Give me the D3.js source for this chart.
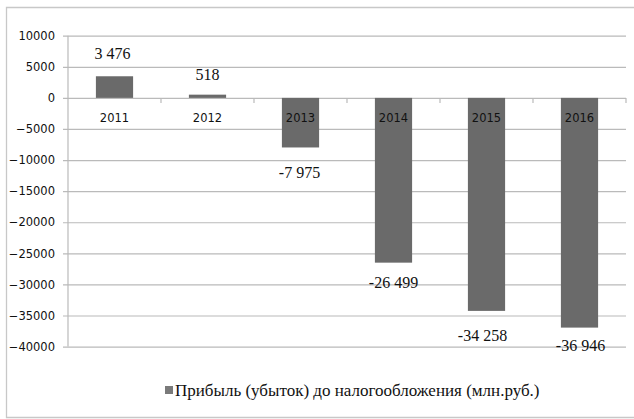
<!DOCTYPE html>
<html>
<head>
<meta charset="utf-8">
<script src="https://cdn.jsdelivr.net/npm/d3@7"></script>
<style>
	html, body { margin: 0; padding: 0; background: #fff; }
	svg { display: block; }
	.serif { font-family: "Liberation Serif", "Times New Roman", "DejaVu Serif", serif; }
	.sans { font-family: "DejaVu Sans", sans-serif; }
</style>
</head>
<body>
<svg width="634" height="419"></svg>
<script>
// data
var years = ["2011", "2012", "2013", "2014", "2015", "2016"];
var profit = [3476, 518, -7975, -26499, -34258, -36946];
var yTicks = [10000, 5000, 0, -5000, -10000, -15000, -20000, -25000, -30000, -35000, -40000];
var seriesName = "Прибыль (убыток) до налогообложения (млн.руб.)";
// hand-placed labels in the original, small shifts [dx, dy]
var labelNudge = [[-2, -1], [0, 1], [-1, 3.5], [0, -2], [-4, 3], [1, -4]];

window.onload = function() {
	var svg = d3.select("svg");
	var left = 68, right = 626;
	var barColor = "#6a6a6a", gridColor = "#bababa";

	var x = d3.scaleBand().domain(years).range([left, right])
		.paddingInner(0.6).paddingOuter(0.3);
	var y = d3.scaleLinear().domain([-40000, 10000]).range([346.6, 35.7]);

	var fmt = d3.formatLocale({decimal: ",", thousands: " ", grouping: [3], currency: ["", ""], minus: "-"}).format(",d");

	// outer frame (right edge runs off the picture)
	svg.append("path")
		.attr("d", "M640,7.5H6.5V417.5H640")
		.attr("fill", "none")
		.attr("stroke", "#c8c8c8")
		.attr("stroke-width", 1.3);

	// grid + y labels
	var yAxis = svg.append("g")
		.attr("transform", "translate(63,0)")
		.call(d3.axisLeft(y).tickValues(yTicks).tickSize(-(right - 63)).tickPadding(8).tickFormat(d3.format("d")));
	yAxis.select(".domain").remove();
	yAxis.attr("font-family", null);
	yAxis.selectAll(".tick line").attr("stroke", gridColor).attr("stroke-width", 1.2);
	yAxis.selectAll(".tick text")
		.attr("class", "sans")
		.attr("font-size", "11.5px")
		.attr("fill", "#111");

	svg.append("line")
		.attr("x1", left).attr("x2", left)
		.attr("y1", y(10000)).attr("y2", y(-40000))
		.attr("stroke", gridColor).attr("stroke-width", 1.2);

	// bars
	svg.append("g").selectAll("rect")
		.data(profit)
		.enter().append("rect")
		.attr("x", function(d, i) { return x(years[i]); })
		.attr("width", x.bandwidth())
		.attr("y", function(d) { return y(Math.max(0, d)); })
		.attr("height", function(d) { return Math.abs(y(d) - y(0)); })
		.attr("fill", barColor);

	// category ticks on the zero line
	svg.append("g").selectAll("line")
		.data(years)
		.enter().append("line")
		.attr("x1", function(d) { return x(d) + x.bandwidth() / 2 + x.step() / 2; })
		.attr("x2", function(d) { return x(d) + x.bandwidth() / 2 + x.step() / 2; })
		.attr("y1", y(0)).attr("y2", y(0) + 5)
		.attr("stroke", gridColor).attr("stroke-width", 1.2);

	// year labels
	svg.append("g").selectAll("text")
		.data(years)
		.enter().append("text")
		.attr("class", "sans")
		.attr("x", function(d) { return x(d) + x.bandwidth() / 2; })
		.attr("y", y(0) + 24)
		.attr("text-anchor", "middle")
		.attr("font-size", "11.5px")
		.attr("fill", "#111")
		.text(function(d) { return d; });

	// value labels
	svg.append("g").selectAll("text")
		.data(profit)
		.enter().append("text")
		.attr("class", "serif")
		.attr("x", function(d, i) { return x(years[i]) + x.bandwidth() / 2 + labelNudge[i][0]; })
		.attr("y", function(d, i) { return (d >= 0 ? y(d) - 16 : y(d) + 27) + labelNudge[i][1]; })
		.attr("text-anchor", "middle")
		.attr("font-size", "16px")
		.attr("fill", "#111")
		.text(function(d) { return fmt(d); });

	// legend
	var legend = svg.append("g").attr("transform", "translate(165,386)");
	legend.append("rect")
		.attr("width", 8).attr("height", 8)
		.attr("fill", "#7a7a7a");
	legend.append("text")
		.attr("class", "serif")
		.attr("x", 10).attr("y", 9.5)
		.attr("font-size", "17px")
		.attr("fill", "#111")
		.text(seriesName);
};
</script>
</body>
</html>
